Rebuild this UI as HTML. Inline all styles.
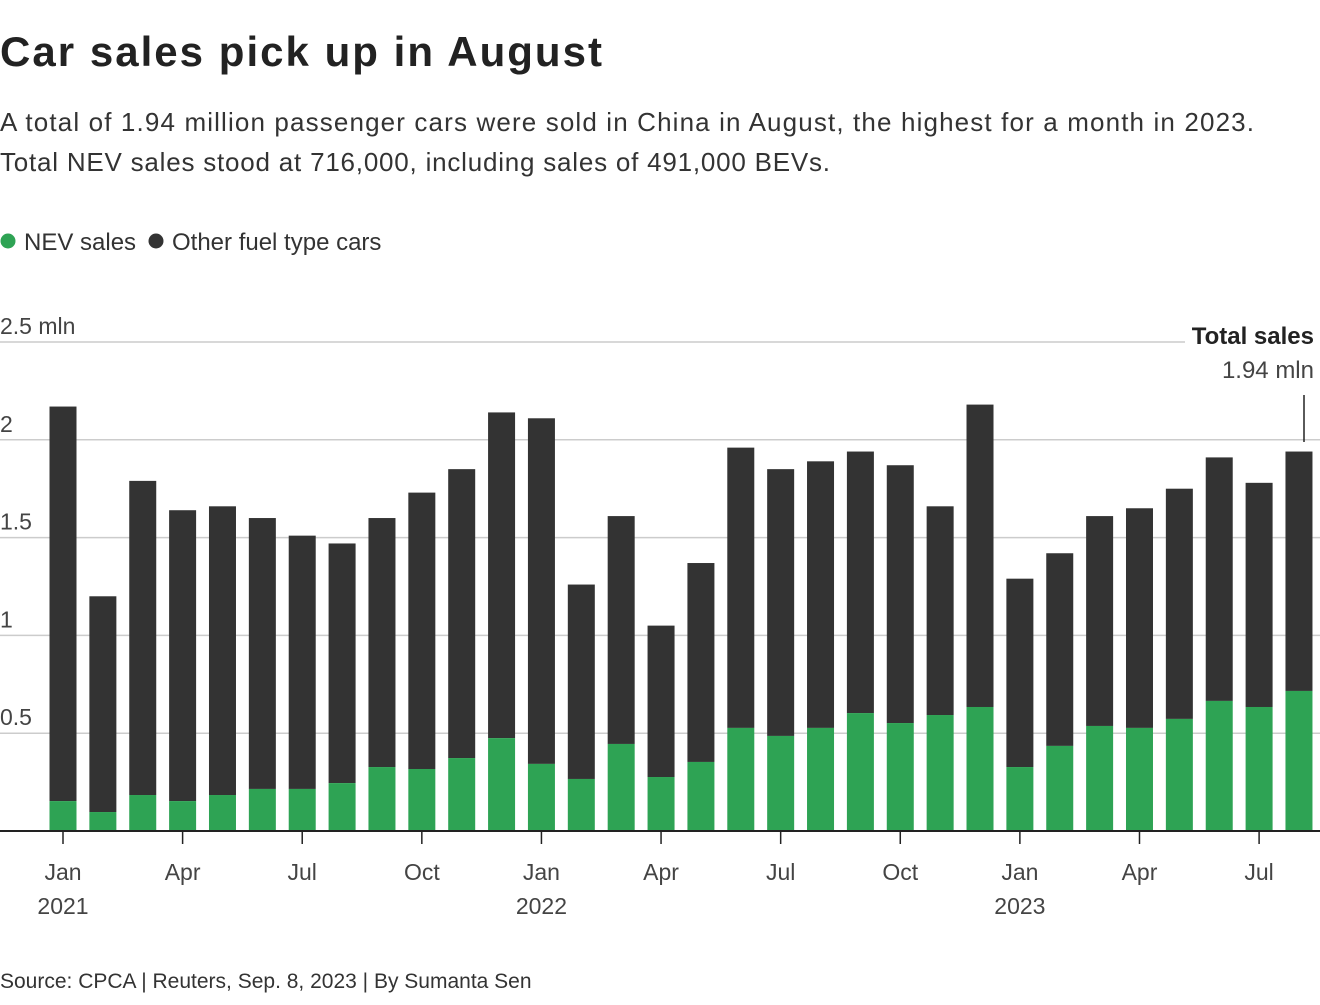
<!DOCTYPE html>
<html><head><meta charset="utf-8">
<style>
body{margin:0;background:#fff;width:1320px;height:1000px;overflow:hidden;font-family:"Liberation Sans",sans-serif;color:#222}
svg text{font-family:"Liberation Sans",sans-serif}
</style></head>
<body>
<svg width="1320" height="1000">
<text x="0" y="66" font-size="42" font-weight="bold" fill="#222" textLength="602">Car sales pick up in August</text>
<text x="0" y="131" font-size="26" fill="#333" textLength="1254">A total of 1.94 million passenger cars were sold in China in August, the highest for a month in 2023.</text>
<text x="0" y="171" font-size="26" fill="#333" textLength="830">Total NEV sales stood at 716,000, including sales of 491,000 BEVs.</text>
<g>
<circle cx="8" cy="241" r="7.5" fill="#2ea354"/>
<text x="24" y="250" font-size="24" fill="#333">NEV sales</text>
<circle cx="156" cy="241" r="7.5" fill="#333"/>
<text x="172" y="250" font-size="24" fill="#333">Other fuel type cars</text>
</g>
<g id="grid"></g>
<g id="bars"></g>
<g id="xaxis"></g>
<g>
<text x="1314" y="344" font-size="24" font-weight="bold" text-anchor="end" fill="#222">Total sales</text>
<text x="1314" y="378" font-size="24" text-anchor="end" fill="#444">1.94 mln</text>
<line x1="1304" y1="395" x2="1304" y2="442" stroke="#222" stroke-width="1.5"/>
</g>
<text x="0" y="988" font-size="21" fill="#333">Source: CPCA | Reuters, Sep. 8, 2023 | By Sumanta Sen</text>
</svg>
<script>
const months=["Jan","Feb","Mar","Apr","May","Jun","Jul","Aug","Sep","Oct","Nov","Dec","Jan","Feb","Mar","Apr","May","Jun","Jul","Aug","Sep","Oct","Nov","Dec","Jan","Feb","Mar","Apr","May","Jun","Jul","Aug"];
const years=["2021","","","","","","","","","","","","2022","","","","","","","","","","","","2023","","","","","","",""];
const totalSales=[2.17,1.20,1.79,1.64,1.66,1.60,1.51,1.47,1.60,1.73,1.85,2.14,2.11,1.26,1.61,1.05,1.37,1.96,1.85,1.89,1.94,1.87,1.66,2.18,1.29,1.42,1.61,1.65,1.75,1.91,1.78,1.94];
const nevSales=[0.153,0.097,0.184,0.153,0.184,0.215,0.215,0.245,0.327,0.317,0.373,0.475,0.343,0.266,0.445,0.276,0.353,0.527,0.486,0.527,0.603,0.552,0.593,0.634,0.327,0.435,0.537,0.527,0.573,0.665,0.634,0.716];
const yTicks=[0.5,1,1.5,2,2.5];
const yTickLabels=["0.5","1","1.5","2","2.5 mln"];
const ns="http://www.w3.org/2000/svg";
const y0=831,yScale=195.6,x0=63,step=39.87,bw=27;
const y=v=>y0-v*yScale, x=i=>x0+i*step;
function mk(t,a,p){const e=document.createElementNS(ns,t);for(const k in a)e.setAttribute(k,a[k]);p.appendChild(e);return e;}
const grid=document.getElementById('grid'),bars=document.getElementById('bars'),xa=document.getElementById('xaxis');
yTicks.forEach((v,i)=>{
 const l=mk('line',{x1:0,x2:v===2.5?1185:1320,y1:y(v),y2:y(v),stroke:'#ccc','stroke-width':1.5},grid);
 
 
 const t=mk('text',{x:0,y:y(v)-8,'font-size':23,fill:'#444'},grid);
 t.textContent=yTickLabels[i];
 
 
});
totalSales.forEach((tot,i)=>{
 const o=mk('rect',{x:x(i)-bw/2,y:y(tot),width:bw,height:y(nevSales[i])-y(tot),fill:'#333'},bars);
 
 
 const n=mk('rect',{x:x(i)-bw/2,y:y(nevSales[i]),width:bw,height:y0-y(nevSales[i]),fill:'#2ea354'},bars);
 
 
 if(i%3===0){
  const tk=mk('line',{x1:x(i),x2:x(i),y1:y0,y2:y0+13,stroke:'#222','stroke-width':1.5},xa);
  
  
  const t=mk('text',{x:x(i),y:880,'font-size':23,fill:'#444','text-anchor':'middle'},xa);
  t.textContent=months[i];
  
  
  if(years[i]){const yt=mk('text',{x:x(i),y:914,'font-size':23,fill:'#444','text-anchor':'middle'},xa);
  yt.textContent=years[i];
  
  }
 }
});
const ax=mk('line',{x1:0,x2:1320,y1:y0,y2:y0,stroke:'#222','stroke-width':2},xa);


</script>
</body></html>
